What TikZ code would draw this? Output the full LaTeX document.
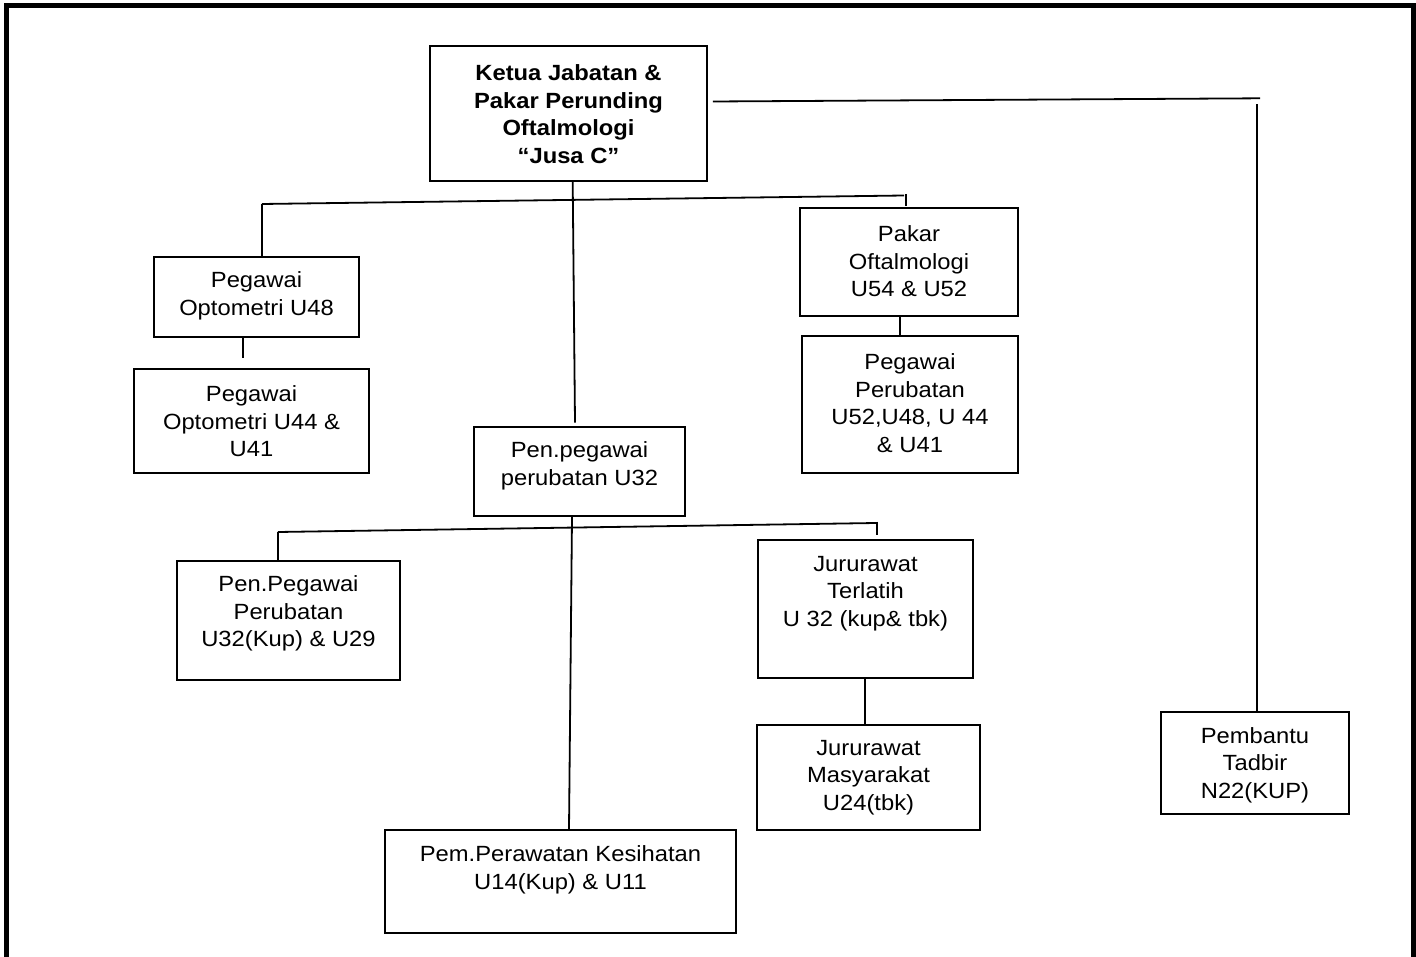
\documentclass[tikz,border=0pt]{standalone}
\usepackage{fontspec}
\setmainfont{Liberation Sans}[FakeStretch=1.08]
\begin{document}
\begin{tikzpicture}[x=1pt,y=-1pt,
  box/.style={draw=black, line width=1.8pt, rectangle, inner sep=0pt},
  lbl/.style={align=center, inner sep=0pt, font=\fontsize{22}{27.5}\selectfont},
  conn/.style={draw=black, line width=1.8pt},
  frame/.style={draw=black, line width=5pt}]
\useasboundingbox[fill=white] (0,0) rectangle (1416,957);
% outer frame
\draw[frame] (6.5,957) -- (6.5,5.8) -- (1413.5,5.8) -- (1413.5,957);

% boxes
\node[box, minimum width=277pt, minimum height=135pt] (ketua) at (568.5,113.5) {};
\node[lbl, font=\fontsize{22}{27.5}\selectfont\bfseries] (ketua-t) at (568.5,114) {Ketua Jabatan \&\\Pakar Perunding\\Oftalmologi\\“Jusa C”};

\node[box, minimum width=205pt, minimum height=80pt] (opt48) at (256.5,297) {};
\node[lbl] (opt48-t) at (256.5,296) {Pegawai\\Optometri U48};

\node[box, minimum width=235pt, minimum height=104pt] (opt44) at (251.5,421) {};
\node[lbl] (opt44-t) at (251.5,421.5) {Pegawai\\Optometri U44 \&\\U41};

\node[box, minimum width=211pt, minimum height=89pt] (pen32) at (579.5,471.5) {};
\node[lbl] (pen32-t) at (579.5,466) {Pen.pegawai\\perubatan U32};

\node[box, minimum width=218pt, minimum height=108pt] (pakar) at (909,262) {};
\node[lbl] (pakar-t) at (909,261.5) {Pakar\\Oftalmologi\\U54 \& U52};

\node[box, minimum width=216pt, minimum height=137pt] (pegperub) at (910,404.5) {};
\node[lbl] (pegperub-t) at (910,403) {Pegawai\\Perubatan\\U52,U48, U 44\\\& U41};

\node[box, minimum width=223pt, minimum height=119pt] (penpeg) at (288.5,620.5) {};
\node[lbl] (penpeg-t) at (288.5,613.5) {Pen.Pegawai\\Perubatan\\U32(Kup) \& U29};

\node[box, minimum width=215pt, minimum height=138pt] (jt) at (865.5,609) {};
\node[lbl] (jt-t) at (865.5,593.5) {Jururawat\\Terlatih\\U 32 (kup\& tbk)};

\node[box, minimum width=223pt, minimum height=105pt] (jm) at (868.5,777.5) {};
\node[lbl] (jm-t) at (868.5,777.5) {Jururawat\\Masyarakat\\U24(tbk)};

\node[box, minimum width=351pt, minimum height=103pt] (pem) at (560.5,881.5) {};
\node[lbl] (pem-t) at (560.5,870) {Pem.Perawatan Kesihatan\\U14(Kup) \& U11};

\node[box, minimum width=188pt, minimum height=102pt] (pt) at (1255,763) {};
\node[lbl] (pt-t) at (1255,765) {Pembantu\\Tadbir\\N22(KUP)};

% branch points
\coordinate (c1) at (1260,98.3);
\coordinate (c1v) at (1257,104.5);
\coordinate (b1l) at (262,204);
\coordinate (b1r) at (904,195.5);
\coordinate (b1t) at (906,194);
\coordinate (b2l) at (278,532);
\coordinate (b2r) at (876,523);
\coordinate (b2t) at (877,521.5);

% connectors
\draw[conn] ([xshift=5pt,yshift=12pt]ketua.east) -- (c1);
\draw[conn] (c1v) -- ([xshift=2pt]pt.north);
\draw[conn] ([xshift=4.2pt]ketua.south) -- ([xshift=-4.5pt,yshift=3.5pt]pen32.north);
\draw[conn] (b1l) -- (b1r);
\draw[conn] (b1l) -- ([xshift=5.5pt]opt48.north);
\draw[conn] (b1t) -- ([xshift=-3pt,yshift=1pt]pakar.north);
\draw[conn] ([xshift=-13.5pt]opt48.south) -- ([xshift=-8.5pt,yshift=10pt]opt44.north);
\draw[conn] ([xshift=-9pt]pakar.south) -- ([xshift=-10pt]pegperub.north);
\draw[conn] ([xshift=-7.5pt]pen32.south) -- ([xshift=8.5pt]pem.north);
\draw[conn] (b2l) -- (b2r);
\draw[conn] (b2l) -- ([xshift=-10.5pt]penpeg.north);
\draw[conn] (b2t) -- ([xshift=11.5pt,yshift=4pt]jt.north);
\draw[conn] ([xshift=-0.5pt]jt.south) -- ([xshift=-3.5pt]jm.north);
\end{tikzpicture}
\end{document}
